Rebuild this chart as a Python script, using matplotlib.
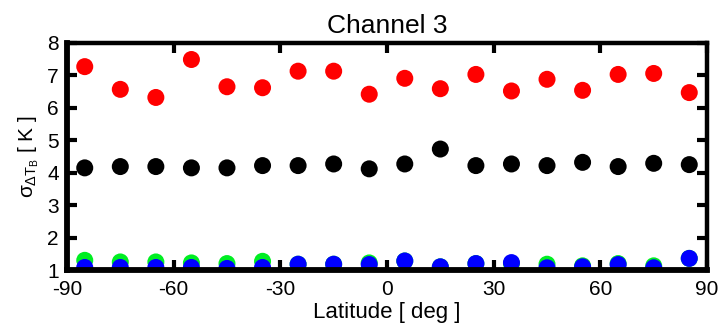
import numpy as np
import matplotlib.pyplot as plt

plt.rcParams['font.family'] = ['Liberation Sans', 'DejaVu Sans']
plt.rcParams['mathtext.fontset'] = 'custom'
plt.rcParams['mathtext.rm'] = 'Liberation Sans'
plt.rcParams['mathtext.it'] = 'Liberation Sans'
plt.rcParams['axes.unicode_minus'] = False

latitude = [-85, -75, -65, -55, -45, -35, -25, -15, -5, 5, 15, 25, 35, 45, 55, 65, 75, 85]
red_vals = [7.27, 6.57, 6.32, 7.49, 6.65, 6.62, 7.13, 7.13, 6.42, 6.91, 6.59, 7.03,
            6.52, 6.88, 6.54, 7.03, 7.06, 6.47]
black_vals = [4.15, 4.19, 4.19, 4.15, 4.15, 4.22, 4.22, 4.27, 4.12, 4.27, 4.73, 4.22,
              4.27, 4.22, 4.32, 4.19, 4.29, 4.25]
green_vals = [1.30, 1.25, 1.25, 1.22, 1.20, 1.27, 1.18, 1.18, 1.22, 1.28, 1.10, 1.20,
              1.20, 1.18, 1.13, 1.20, 1.13, 1.36]
blue_vals = [1.08, 1.08, 1.08, 1.08, 1.05, 1.08, 1.18, 1.18, 1.17, 1.28, 1.10, 1.20,
             1.23, 1.07, 1.10, 1.17, 1.07, 1.36]

fig = plt.figure(figsize=(7.2, 3.33), dpi=100)
ax = fig.add_axes([0.093, 0.189, 0.889, 0.682])

ms = 150
ax.scatter(latitude, red_vals, s=ms, color='#ff0000', edgecolors='none', zorder=3)
ax.scatter(latitude, black_vals, s=ms, color='black', edgecolors='none', zorder=3)
ax.scatter(latitude, green_vals, s=ms, color='#00ee22', edgecolors='none', zorder=3)
ax.scatter(latitude, blue_vals, s=ms, color='#0000ff', edgecolors='none', zorder=4)

ax.set_xlim(-90, 90)
ax.set_ylim(1, 8)
ax.set_xticks([-90, -60, -30, 0, 30, 60, 90])
ax.set_yticks([1, 2, 3, 4, 5, 6, 7, 8])
ax.tick_params(direction='in', length=7, width=3, labelsize=15, top=True, right=True)
ax.tick_params(axis='x', pad=7)
ax.tick_params(axis='y', pad=6)
for name, sp in ax.spines.items():
    sp.set_linewidth(4.2 if name in ('left', 'bottom') else 3.2)
    sp.set_zorder(5)

ax.set_title('Channel 3', fontsize=19, pad=7)
ax.set_xlabel('Latitude [ deg ]', fontsize=16, labelpad=2)
ax.set_ylabel(r'$\sigma_{\Delta T_B}$ [ K ]', fontsize=15, labelpad=4)

plt.savefig('out.png', dpi=100)
